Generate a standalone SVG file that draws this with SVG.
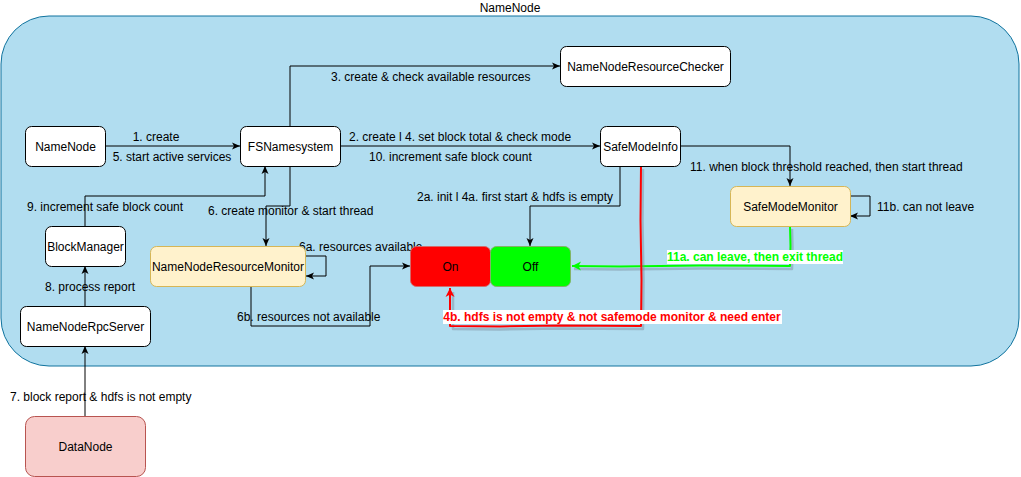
<svg xmlns="http://www.w3.org/2000/svg" width="1021" height="477" viewBox="0 0 1021 477">
<style>
text{font-family:"Liberation Sans",Arial,sans-serif;font-size:12px;fill:#000}
.node{fill:#fff;stroke:#000;stroke-width:1}
.yel{fill:#fff2cc;stroke:#d6b656;stroke-width:1}
.c{text-anchor:middle}
.e{fill:none;stroke:#000;stroke-width:1}
.red{fill:none;stroke:#ff0000;stroke-width:2;stroke-linejoin:round}
.grn{fill:none;stroke:#00ff00;stroke-width:2;stroke-linejoin:round}
.sh{fill:none;stroke:#7a8a99;stroke-opacity:0.45;stroke-width:2.5;stroke-linejoin:round}
.b{font-weight:bold}
</style>
<defs>
<marker id="ab" markerWidth="10" markerHeight="10" refX="9" refY="5" orient="auto" markerUnits="userSpaceOnUse">
<path d="M1,1.5 L9,5 L1,8.5 L3,5 Z" fill="#000"/>
</marker>
<marker id="ar" markerWidth="12" markerHeight="12" refX="10" refY="6" orient="auto" markerUnits="userSpaceOnUse">
<path d="M1,1.5 L10,6 L1,10.5 L3.5,6 Z" fill="#ff0000"/>
</marker>
<marker id="ag" markerWidth="12" markerHeight="12" refX="10" refY="6" orient="auto" markerUnits="userSpaceOnUse">
<path d="M1,1.5 L10,6 L1,10.5 L3.5,6 Z" fill="#00ff00"/>
</marker>
</defs>
<rect width="1021" height="477" fill="#fff"/>
<g id="container">
<rect x="1" y="16" width="1018" height="350" rx="48" ry="48" fill="#b1ddf0" stroke="#10739e" stroke-width="1"/>
<text class="c" x="510" y="12">NameNode</text>
</g>
<g id="connectors">
<!-- 1 / 5 -->
<line class="e" x1="105" y1="146" x2="240" y2="146" marker-end="url(#ab)"/>
<text class="c" x="156" y="141">1. create</text>
<text class="c" x="172" y="161">5. start active services</text>
<!-- 2 / 4 / 10 -->
<line class="e" x1="340" y1="146" x2="600" y2="146" marker-end="url(#ab)"/>
<text x="349" y="141">2. create l 4. set block total &amp; check mode</text>
<text x="369" y="161">10. increment safe block count</text>
<!-- 3 -->
<polyline class="e" points="290,126 290,66 560,66" marker-end="url(#ab)"/>
<text x="331" y="81">3. create &amp; check available resources</text>
<!-- 6 -->
<polyline class="e" points="290,166 290,206 266,206 266,246" marker-end="url(#ab)"/>
<text x="208" y="215">6. create monitor &amp; start thread</text>
<!-- 9 -->
<polyline class="e" points="85,226 85,196 265,196 265,166" marker-end="url(#ab)"/>
<text x="27" y="211">9. increment safe block count</text>
<!-- 8 -->
<line class="e" x1="85" y1="306" x2="85" y2="266" marker-end="url(#ab)"/>
<text x="45" y="291">8. process report</text>
<!-- 7 -->
<line class="e" x1="85" y1="416" x2="85" y2="346" marker-end="url(#ab)"/>
<text x="10" y="401">7. block report &amp; hdfs is not empty</text>
<!-- 6a -->
<polyline class="e" points="306,256 326,256 326,276 306,276" marker-end="url(#ab)"/>
<text x="299" y="251">6a. resources available</text>
<!-- 6b -->
<polyline class="e" points="251,286 251,326 370,326 370,266 410,266" marker-end="url(#ab)"/>
<text x="237" y="321">6b. resources not available</text>
<!-- 2a / 4a -->
<polyline class="e" points="620,166 620,206 530,206 530,246" marker-end="url(#ab)"/>
<text x="417" y="201">2a. init l 4a. first start &amp; hdfs is empty</text>
<!-- 11 -->
<polyline class="e" points="680,146 790,146 790,186" marker-end="url(#ab)"/>
<text x="690" y="171">11. when block threshold reached, then start thread</text>
<!-- 11b -->
<polyline class="e" points="850,196 870,196 870,216 850,216" marker-end="url(#ab)"/>
<text x="877" y="211">11b. can not leave</text>
<!-- 11a green -->
<path class="sh" d="M792,229 L792.5,248 L792,269 L700,268.5 L620,269.5 L574,269"/>
<path class="grn" d="M790,226 L790.5,246 L790,266 L700,265.5 L620,266.5 L572,266" marker-end="url(#ag)"/>
<rect x="667" y="250" width="176" height="14" fill="#fff"/>
<text class="c b" x="755" y="261" style="fill:#00ff00">11a. can leave, then exit thread</text>
<!-- 4b red -->
<path class="sh" d="M643,169 L642.5,220 L643.5,280 L643,329 L560,328.5 L500,329.5 L453,329 L453,292"/>
<path class="red" d="M641,166 L640.5,220 L641.5,280 L641,326 L560,325.5 L500,326.5 L450,326 L450,288" marker-end="url(#ar)"/>
<rect x="443" y="310" width="339" height="14" fill="#fff"/>
<text class="c b" x="612" y="321" style="fill:#ff0000">4b. hdfs is not empty &amp; not safemode monitor &amp; need enter</text>
</g>
<g id="NameNode">
<rect class="node" x="25.5" y="126.5" width="80" height="40" rx="6"/>
<text class="c" x="65.5" y="150.5">NameNode</text>
</g>
<g id="FSNamesystem">
<rect class="node" x="240.5" y="126.5" width="100" height="40" rx="6"/>
<text class="c" x="290.5" y="150.5">FSNamesystem</text>
</g>
<g id="NameNodeResourceChecker">
<rect class="node" x="560.5" y="46.5" width="170" height="40" rx="6"/>
<text class="c" x="645.5" y="70.5">NameNodeResourceChecker</text>
</g>
<g id="SafeModeInfo">
<rect class="node" x="600.5" y="126.5" width="80" height="40" rx="6"/>
<text class="c" x="640.5" y="150.5">SafeModeInfo</text>
</g>
<g id="SafeModeMonitor">
<rect class="yel" x="730.5" y="186.5" width="120" height="40" rx="6"/>
<text class="c" x="790.5" y="210.5">SafeModeMonitor</text>
</g>
<g id="BlockManager">
<rect class="node" x="45.5" y="226.5" width="80" height="40" rx="6"/>
<text class="c" x="85.5" y="250.5">BlockManager</text>
</g>
<g id="NameNodeResourceMonitor">
<rect class="yel" x="150.5" y="246.5" width="155" height="40" rx="6"/>
<text class="c" x="228" y="270.5">NameNodeResourceMonitor</text>
</g>
<g id="NameNodeRpcServer">
<rect class="node" x="20.5" y="306.5" width="130" height="40" rx="6"/>
<text class="c" x="85.5" y="330.5">NameNodeRpcServer</text>
</g>
<g id="DataNode">
<rect x="25.5" y="416.5" width="120" height="60" rx="9" fill="#f8cecc" stroke="#b85450"/>
<text class="c" x="85.5" y="450.5">DataNode</text>
</g>
<g id="On">
<rect x="410.5" y="246.5" width="80" height="40" rx="6" fill="#ff0000" stroke="#d46a6a"/>
<text class="c" x="450.5" y="270.5">On</text>
</g>
<g id="Off">
<rect x="490.5" y="246.5" width="80" height="40" rx="6" fill="#00ff00" stroke="#82b366"/>
<text class="c" x="530.5" y="270.5">Off</text>
</g>
</svg>
